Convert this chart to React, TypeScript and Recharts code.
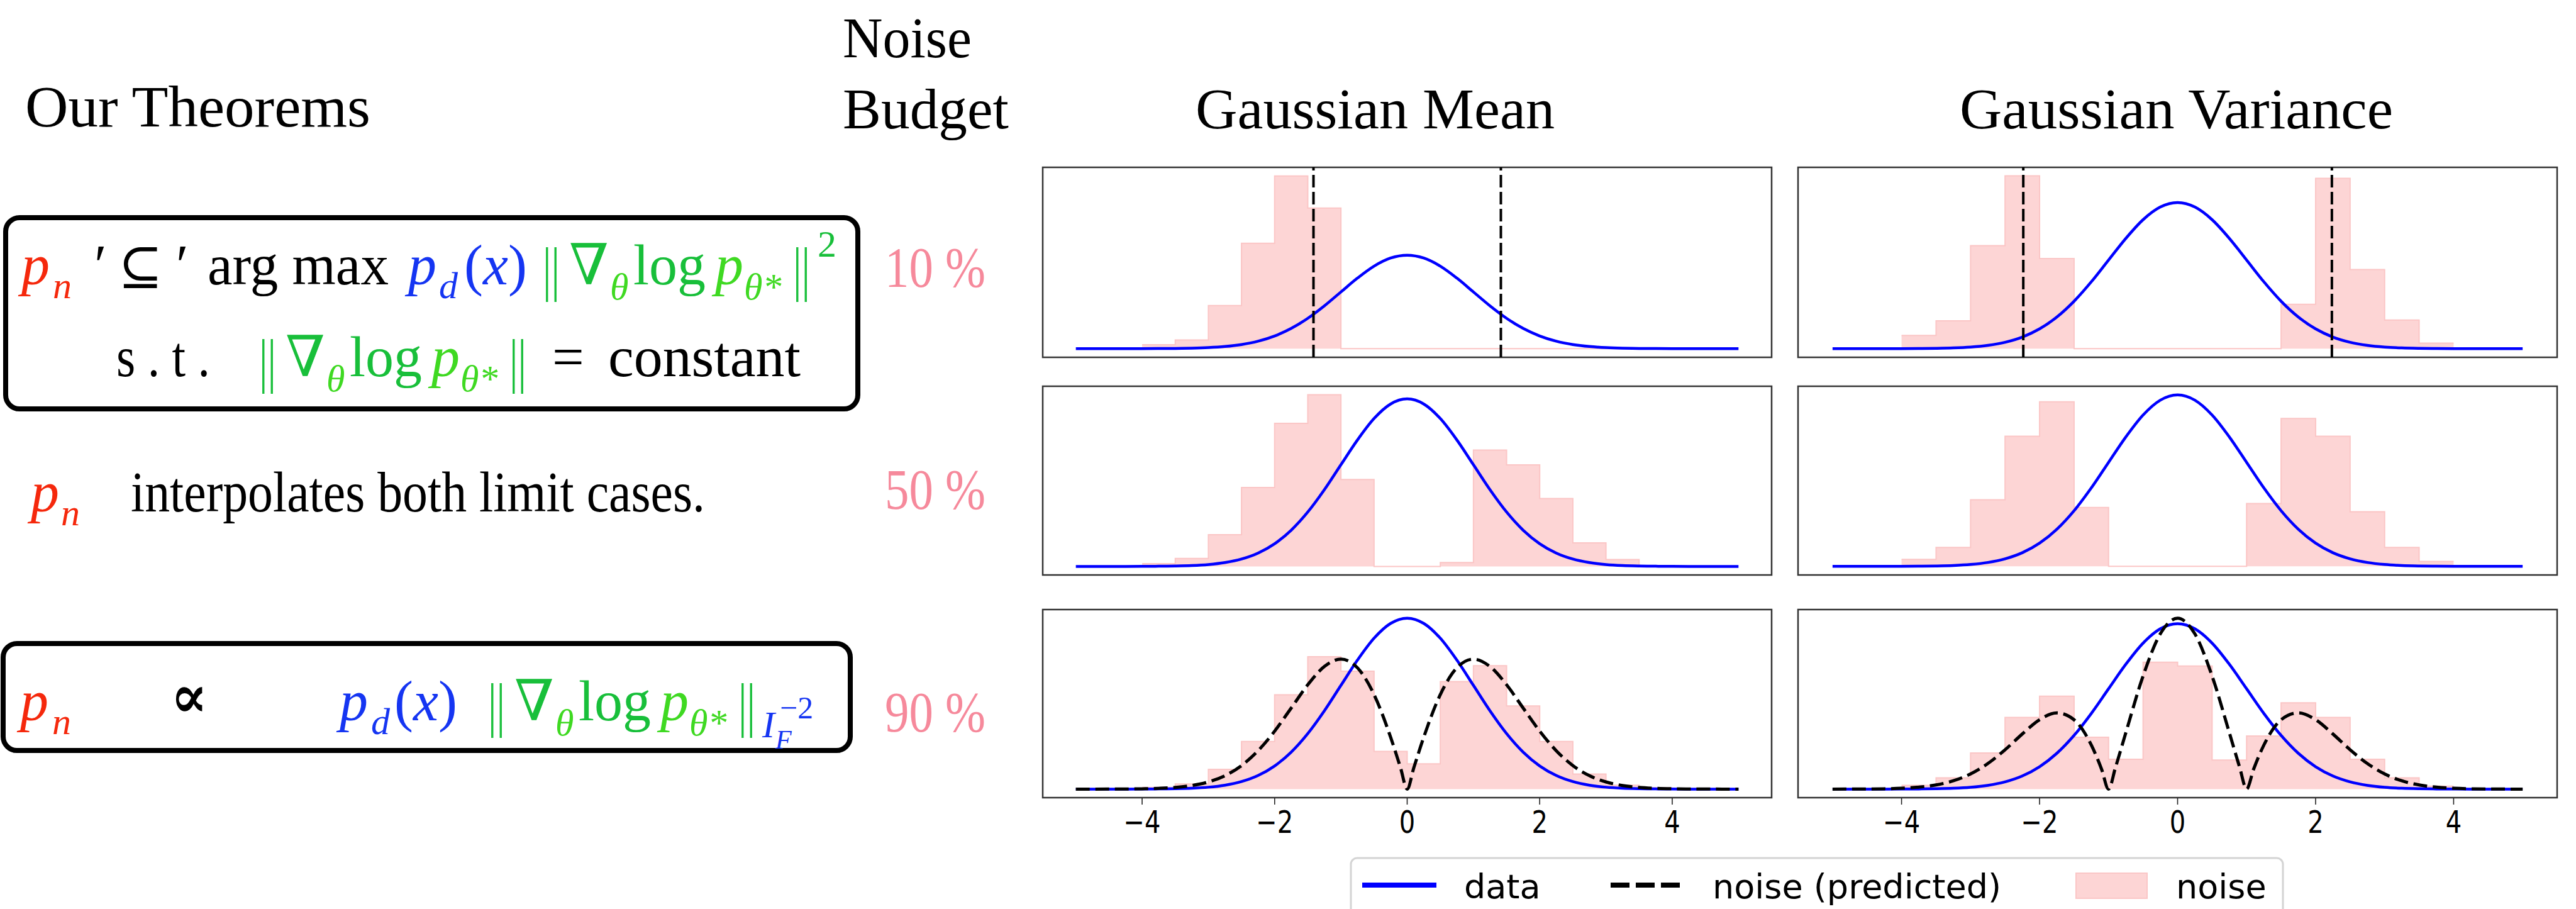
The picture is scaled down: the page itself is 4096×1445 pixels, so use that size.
import React from 'react'
import { ComposedChart, Area, Line, XAxis, YAxis, ReferenceLine, ReferenceArea } from 'recharts'

// histogram bins (width 0.5) shared by every panel
const binEdges = [-4, -3.5, -3, -2.5, -2, -1.5, -1, -0.5, 0, 0.5, 1, 1.5, 2, 2.5, 3, 3.5, 4]

// noise histogram densities, one value per bin
const histMean10 = [0.017, 0.037, 0.184, 0.45, 0.737, 0.6, 0, 0, 0, 0, 0, 0, 0, 0, 0, 0]
const histVar10 = [0.036, 0.076, 0.281, 0.472, 0.246, 0, 0, 0, 0, 0, 0, 0.121, 0.465, 0.216, 0.078, 0.015]
const histMean50 = [0.0065, 0.0188, 0.0756, 0.188, 0.3405, 0.4088, 0.207, 0, 0, 0.009, 0.277, 0.2416, 0.1615, 0.056, 0.0164, 0]
const histVar50 = [0.0163, 0.044, 0.155, 0.3027, 0.3827, 0.137, 0, 0, 0, 0, 0.146, 0.344, 0.3027, 0.127, 0.044, 0.0114]
const histMean90 = [0.004, 0.012, 0.046, 0.111, 0.22, 0.309, 0.275, 0.088, 0.059, 0.251, 0.288, 0.194, 0.111, 0.035, 0.009, 0.003]
const histVar90 = [0.009, 0.027, 0.087, 0.173, 0.224, 0.125, 0.072, 0.306, 0.297, 0.07, 0.128, 0.208, 0.173, 0.072, 0.027, 0.007]

// data density (blue)
const gaussX = [-5, -4.75, -4.5, -4.25, -4, -3.75, -3.5, -3.25, -3, -2.75, -2.5, -2.25, -2, -1.75, -1.5, -1.25, -1, -0.75, -0.5, -0.25, 0,
  0.25, 0.5, 0.75, 1, 1.25, 1.5, 1.75, 2, 2.25, 2.5, 2.75, 3, 3.25, 3.5, 3.75, 4, 4.25, 4.5, 4.75, 5]
const gaussY = [0, 0, 0, 0, 0.0001, 0.0004, 0.0009, 0.002, 0.0044, 0.0091, 0.0175, 0.0317, 0.054, 0.0863, 0.1295, 0.1826, 0.242, 0.3011, 0.3521, 0.3867, 0.3989,
  0.3867, 0.3521, 0.3011, 0.242, 0.1826, 0.1295, 0.0863, 0.054, 0.0317, 0.0175, 0.0091, 0.0044, 0.002, 0.0009, 0.0004, 0.0001, 0, 0, 0, 0]

// predicted noise, Gaussian mean, 90 %
const predMeanX = [-5, -4.75, -4.5, -4.25, -4, -3.75, -3.5, -3.25, -3, -2.75, -2.5, -2.25, -2, -1.75, -1.5, -1.25, -1, -0.75, -0.5, -0.25, -0.1, 0,
  0.1, 0.25, 0.5, 0.75, 1, 1.25, 1.5, 1.75, 2, 2.25, 2.5, 2.75, 3, 3.25, 3.5, 3.75, 4, 4.25, 4.5, 4.75, 5]
const predMeanY = [0, 0, 0.0001, 0.0003, 0.0007, 0.0017, 0.0038, 0.0083, 0.0167, 0.0313, 0.0549, 0.0895, 0.1353, 0.1892, 0.2435, 0.2861, 0.3033, 0.283, 0.2206, 0.1211, 0.0497, 0,
  0.0497, 0.1211, 0.2206, 0.283, 0.3033, 0.2861, 0.2435, 0.1892, 0.1353, 0.0895, 0.0549, 0.0313, 0.0167, 0.0083, 0.0038, 0.0017, 0.0007, 0.0003, 0.0001, 0, 0]

// predicted noise, Gaussian variance, 90 %
const predVarX = [-5, -4.75, -4.5, -4.25, -4, -3.75, -3.5, -3.25, -3, -2.75, -2.5, -2.25, -2, -1.75, -1.5, -1.25, -1.1, -1, -0.9, -0.75, -0.5, -0.25, 0,
  0.25, 0.5, 0.75, 0.9, 1, 1.1, 1.25, 1.5, 1.75, 2, 2.25, 2.5, 2.75, 3, 3.25, 3.5, 3.75, 4, 4.25, 4.5, 4.75, 5]
const predVarY = [0, 0.0001, 0.0003, 0.0008, 0.0021, 0.0048, 0.0101, 0.02, 0.0366, 0.0617, 0.0949, 0.133, 0.1674, 0.1839, 0.1672, 0.1061, 0.0473, 0, 0.0522, 0.1361, 0.2728, 0.3745, 0.4121,
  0.3745, 0.2728, 0.1361, 0.0522, 0, 0.0473, 0.1061, 0.1672, 0.1839, 0.1674, 0.133, 0.0949, 0.0617, 0.0366, 0.02, 0.0101, 0.0048, 0.0021, 0.0008, 0.0003, 0.0001, 0]

const xTicks = [-4, -2, 0, 2, 4]
const yTicks = [0, 0.2, 0.4]

const SERIF = "'Liberation Serif', 'DejaVu Serif', serif"
const SANS = "'DejaVu Sans', sans-serif"
const RED = '#f5280c'
const BLUE = '#1535f2'
const GREEN = '#18bf3a'
const GREEN2 = '#3fd922'
const PINK = '#f6899b'

const COLS = [{ x: 1658, w: 1159 }, { x: 2859, w: 1207 }]
const ROWS = [{ y: 266, h: 302 }, { y: 614, h: 300 }, { y: 969, h: 299 }]

const zip = (xs: number[], ys: number[]) => xs.map((x, i) => ({ x, y: ys[i] }))
const stepData = (h: number[]) => binEdges.map((x, i) => ({ x, y: h[Math.min(i, h.length - 1)] }))

function XTick(props: any) {
  const { x, y, payload } = props
  const v = payload.value
  const label = v < 0 ? `\u2212${Math.abs(v)}` : `${v}`
  return (
    <g transform={`translate(${x},${y}) scale(0.8,1)`}>
      <text textAnchor="middle" dy="0.71em" fontSize={50} fontFamily={SANS} fill="#000">{label}</text>
    </g>
  )
}

interface PanelProps {
  col: number
  row: number
  hist: number[]
  yDomain: [number, number]
  cutoffs?: number[]
  predX?: number[]
  predY?: number[]
}

function Panel({ col, row, hist, yDomain, cutoffs, predX, predY }: PanelProps) {
  const c = COLS[col]
  const r = ROWS[row]
  const bottom = row === 2
  const axisH = bottom ? 80 : 16
  const yW = 10
  return (
    <div style={{ position: 'absolute', left: c.x - yW, top: r.y - 2 }}>
      <ComposedChart width={c.w + yW + 3} height={r.h + axisH + 2} margin={{ top: 2, right: 3, bottom: 0, left: 0 }}>
        <XAxis type="number" dataKey="x" domain={[-5.5, 5.5]} ticks={xTicks} interval={0} allowDataOverflow
          axisLine={false} tickLine={{ stroke: '#222', strokeWidth: 1.6 }} tickSize={11} tickMargin={9}
          tick={bottom ? (p: any) => <XTick {...p} /> : false} height={axisH} />
        <YAxis type="number" domain={yDomain} ticks={yTicks} allowDataOverflow axisLine={false} tick={false}
          tickLine={col === 1 ? { stroke: '#222', strokeWidth: 1.8 } : false} tickSize={8} width={yW} />
        <Area data={stepData(hist)} dataKey="y" type="stepAfter" baseValue={0} fill="#fdd5d5" fillOpacity={1}
          stroke="#fbc6c6" strokeWidth={2} dot={false} activeDot={false} isAnimationActive={false} />
        <Line data={zip(gaussX, gaussY)} dataKey="y" type="monotone" stroke="#0000ff" strokeWidth={4.5}
          dot={false} activeDot={false} isAnimationActive={false} />
        {predX && predY && (
          <Line data={zip(predX, predY)} dataKey="y" type="monotone" stroke="#000" strokeWidth={5} strokeDasharray="22 9"
            dot={false} activeDot={false} isAnimationActive={false} />
        )}
        {cutoffs?.map(v => (
          <ReferenceLine key={v} x={v} stroke="#000" strokeWidth={4} strokeDasharray="20 7" />
        ))}
        <ReferenceArea x1={-5.5} x2={5.5} y1={yDomain[0]} y2={yDomain[1]} fill="none" fillOpacity={0} stroke="#333" strokeWidth={2.5} />
      </ComposedChart>
    </div>
  )
}

function T({ x, y, size = 90, color = '#000', italic, bold, len, family = SERIF, children }: any) {
  return (
    <text x={x} y={y} fontSize={size} fill={color} fontFamily={family} fontStyle={italic ? 'italic' : 'normal'}
      fontWeight={bold ? 'bold' : 'normal'} textLength={len} lengthAdjust={len ? 'spacingAndGlyphs' : undefined}>{children}</text>
  )
}

// ‖∇θ log pθ*‖ starting at x
function GradNorm({ x, y }: { x: number; y: number }) {
  return (
    <g>
      <T x={x} y={y + 8} size={96} color={GREEN} len={27}>||</T>
      <T x={x + 42} y={y} color={GREEN}>∇</T>
      <T x={x + 107} y={y + 24} size={60} color={GREEN2} italic>θ</T>
      <T x={x + 144} y={y} color={GREEN} len={115}>log</T>
      <T x={x + 274} y={y} color={GREEN2} italic>p</T>
      <T x={x + 320} y={y + 24} size={60} color={GREEN2} italic>θ*</T>
      <T x={x + 398} y={y + 8} size={96} color={GREEN} len={27}>||</T>
    </g>
  )
}

function Texts() {
  return (
    <svg width={4096} height={1445} style={{ position: 'absolute', left: 0, top: 0, pointerEvents: 'none' }}>
      <T x={40} y={201} size={94} len={549}>Our Theorems</T>
      <T x={1340} y={91} size={92} len={205}>Noise</T>
      <T x={1340} y={204} size={92} len={264}>Budget</T>
      <T x={1901} y={204} size={92} len={571}>Gaussian Mean</T>
      <T x={3116} y={204} size={92} len={689}>Gaussian Variance</T>

      <rect x={9} y={346} width={1355} height={304} rx={22} fill="none" stroke="#000" strokeWidth={8} />
      <T x={34} y={452} color={RED} italic>p</T>
      <T x={84} y={474} size={60} color={RED} italic>n</T>
      <T x={150} y={452}>′</T>
      <T x={188} y={452} size={84}>⊆</T>
      <T x={280} y={452}>′</T>
      <T x={330} y={452} len={288}>arg max</T>
      <T x={649} y={452} color={BLUE} italic>p</T>
      <T x={698} y={474} size={60} color={BLUE} italic>d</T>
      <text x={738} y={452} fontSize={90} fill={BLUE} fontFamily={SERIF}>(<tspan fontStyle="italic">x</tspan>)</text>
      <GradNorm x={863} y={452} />
      <T x={1300} y={408} size={60} color={GREEN}>2</T>

      <T x={185} y={598} len={149}>s . t .</T>
      <GradNorm x={412} y={598} />
      <T x={878} y={598}>=</T>
      <T x={967} y={598} len={306}>constant</T>

      <T x={49} y={813} color={RED} italic>p</T>
      <T x={97} y={835} size={60} color={RED} italic>n</T>
      <T x={208} y={813} len={913}>interpolates both limit cases.</T>

      <rect x={5} y={1023} width={1347} height={170} rx={22} fill="none" stroke="#000" strokeWidth={8} />
      <T x={32} y={1145} color={RED} italic>p</T>
      <T x={83} y={1167} size={60} color={RED} italic>n</T>
      <T x={271} y={1140} size={96} len={59} bold>∝</T>
      <T x={540} y={1145} color={BLUE} italic>p</T>
      <T x={590} y={1167} size={60} color={BLUE} italic>d</T>
      <text x={627} y={1145} fontSize={90} fill={BLUE} fontFamily={SERIF}>(<tspan fontStyle="italic">x</tspan>)</text>
      <GradNorm x={776} y={1145} />
      <T x={1212} y={1172} size={60} color={BLUE} italic>I</T>
      <T x={1233} y={1190} size={42} color={BLUE} italic>F</T>
      <T x={1240} y={1142} size={50} color={BLUE}>−2</T>

      <T x={1407} y={456} size={90} color={PINK} len={160}>10 %</T>
      <T x={1407} y={809} size={90} color={PINK} len={160}>50 %</T>
      <T x={1407} y={1163} size={90} color={PINK} len={160}>90 %</T>

      <rect x={2148} y={1364} width={1482} height={120} rx={10} fill="#fff" stroke="#d4d4d4" strokeWidth={3} />
      <line x1={2166} y1={1407} x2={2284} y2={1407} stroke="#0000ff" strokeWidth={8} />
      <T x={2328} y={1428} size={54} family={SANS}>data</T>
      <line x1={2561} y1={1407} x2={2675} y2={1407} stroke="#000" strokeWidth={8} strokeDasharray="30 10" />
      <T x={2723} y={1428} size={54} family={SANS}>noise (predicted)</T>
      <rect x={3301} y={1388} width={113} height={40} fill="#fdd5d5" stroke="#fbc6c6" strokeWidth={2} />
      <T x={3460} y={1428} size={54} family={SANS}>noise</T>
    </svg>
  )
}

export default function App() {
  return (
    <div style={{ position: 'fixed', left: 0, top: 0, width: 4096, height: 1445, background: '#fff', overflow: 'hidden' }}>
      <Panel col={0} row={0} hist={histMean10} yDomain={[-0.037, 0.774]} cutoffs={[-1.414, 1.414]} />
      <Panel col={1} row={0} hist={histVar10} yDomain={[-0.0236, 0.495]} cutoffs={[-2.236, 2.236]} />
      <Panel col={0} row={1} hist={histMean50} yDomain={[-0.0204, 0.429]} />
      <Panel col={1} row={1} hist={histVar50} yDomain={[-0.02, 0.419]} />
      <Panel col={0} row={2} hist={histMean90} yDomain={[-0.02, 0.419]} predX={predMeanX} predY={predMeanY} />
      <Panel col={1} row={2} hist={histVar90} yDomain={[-0.0206, 0.433]} predX={predVarX} predY={predVarY} />
      <Texts />
    </div>
  )
}
